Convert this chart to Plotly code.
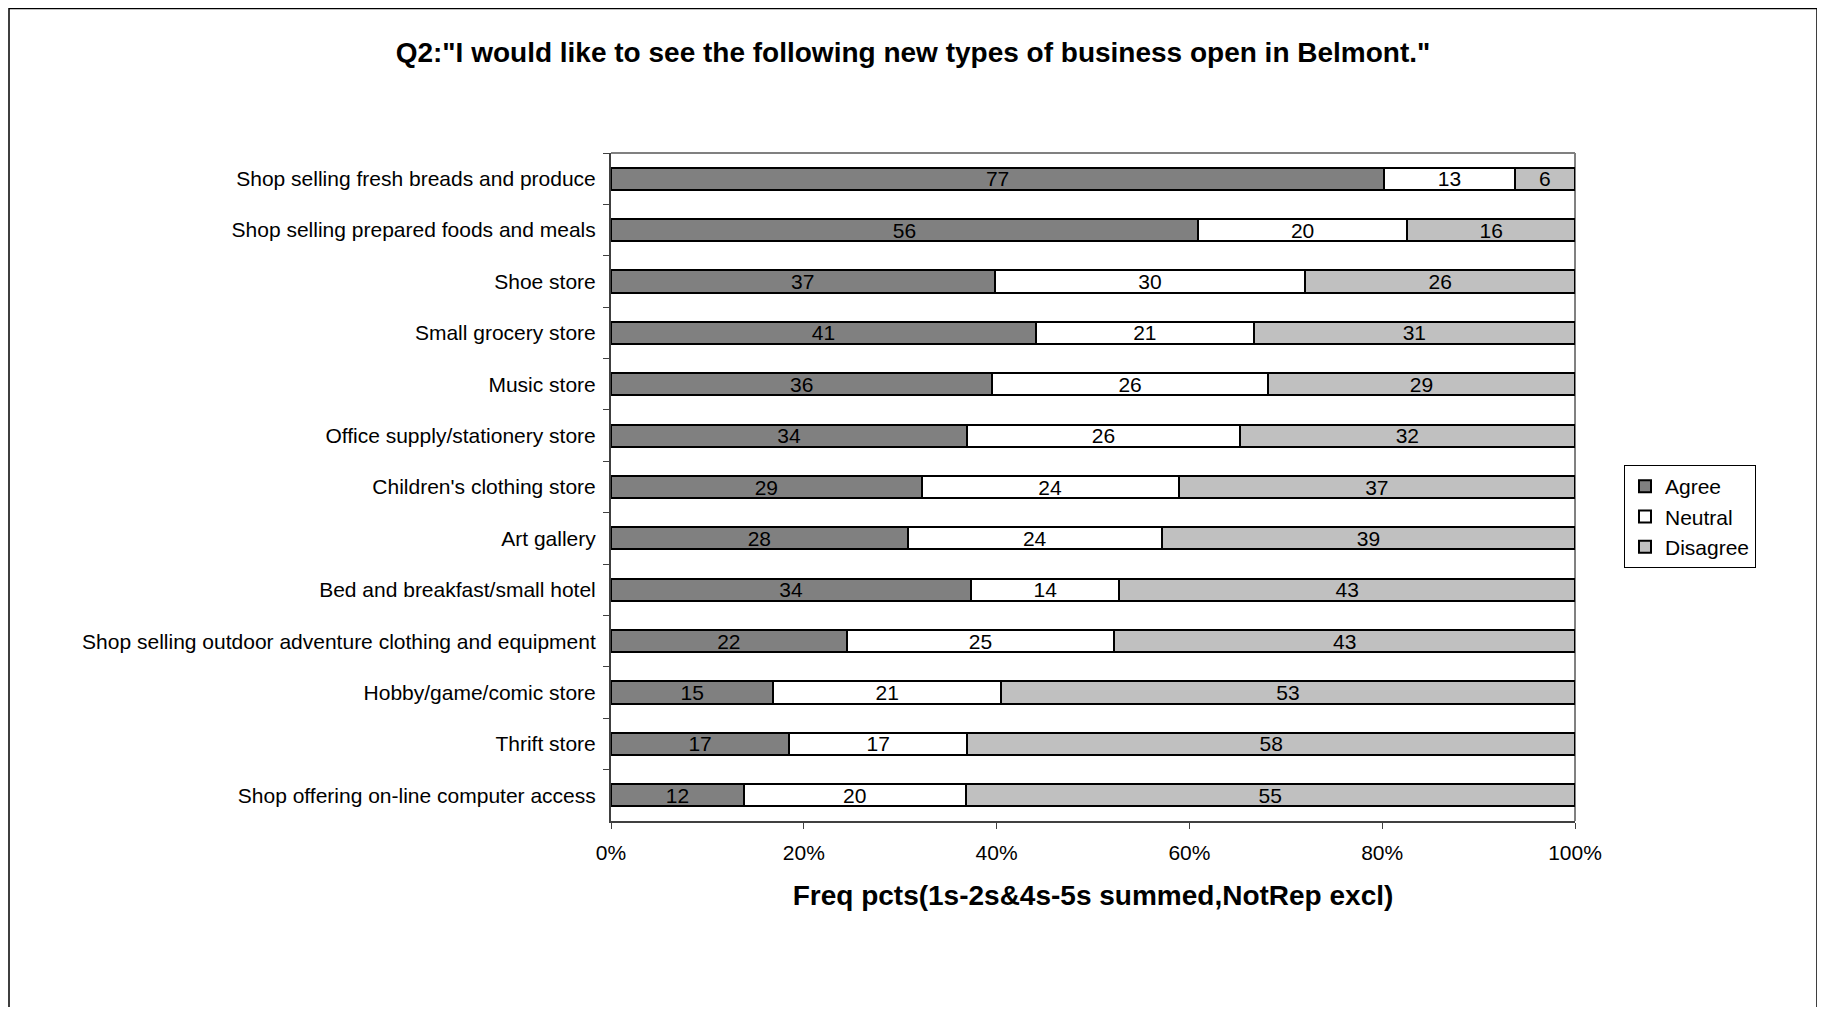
import plotly.graph_objects as go

categories = [
    "Shop selling fresh breads and produce",
    "Shop selling prepared foods and meals",
    "Shoe store",
    "Small grocery store",
    "Music store",
    "Office supply/stationery store",
    "Children's clothing store",
    "Art gallery",
    "Bed and breakfast/small hotel",
    "Shop selling outdoor adventure clothing and equipment",
    "Hobby/game/comic store",
    "Thrift store",
    "Shop offering on-line computer access",
]
agree = [77, 56, 37, 41, 36, 34, 29, 28, 34, 22, 15, 17, 12]
neutral = [13, 20, 30, 21, 26, 26, 24, 24, 14, 25, 21, 17, 20]
disagree = [6, 16, 26, 31, 29, 32, 37, 39, 43, 43, 53, 58, 55]
x_ticks = [0, 20, 40, 60, 80, 100]

FONT = "Liberation Sans, Arial, sans-serif"
OFF = 8  # page body margin
W, H = 1825 - OFF, 1015 - 2 * OFF
# plot area in page coordinates
L, R, T, B = 611 - OFF, 1575 - OFF, 153 - OFF, 821 - OFF

fig = go.Figure()
for name, vals, color in [("Agree", agree, "#808080"),
                          ("Neutral", neutral, "#ffffff"),
                          ("Disagree", disagree, "#c0c0c0")]:
    fig.add_trace(go.Bar(
        name=name, y=categories, x=vals, orientation="h",
        marker=dict(color=color, line=dict(color="#000000", width=2)),
        text=[str(v) for v in vals], textposition="inside",
        insidetextanchor="middle", textangle=0,
        textfont=dict(family=FONT, size=21, color="#000000"),
        hoverinfo="skip",
    ))

pw, ph = R - L, B - T
def px(x):
    return (x - OFF - L) / pw
def py(y):
    return (B - (y - OFF)) / ph

fig.update_layout(
    width=W, height=H,
    margin=dict(l=L, r=W - R, t=T, b=H - B, autoexpand=False),
    barmode="stack", barnorm="percent", bargap=0.57,
    plot_bgcolor="#ffffff", paper_bgcolor="#ffffff",
    font=dict(family=FONT, size=21, color="#000000"),
    title=dict(text='Q2:"I would like to see the following new types of business open in Belmont."',
               x=(913 - OFF) / W, xref="container", xanchor="center",
               y=1 - (52 - OFF) / H, yref="container", yanchor="middle",
               font=dict(family=FONT, size=28, color="#000000", weight="bold")),
    uniformtext=dict(minsize=21, mode="show"),
    legend=dict(x=px(1624), y=py(465), xanchor="left", yanchor="top",
                bordercolor="#000000", borderwidth=1, bgcolor="#ffffff",
                font=dict(family=FONT, size=21), tracegroupgap=0,
                traceorder="normal", itemwidth=30, itemsizing="constant"),
    showlegend=True,
)
fig.update_xaxes(
    range=[0, 100], tickvals=x_ticks, ticktext=[f"{v}%" for v in x_ticks],
    showgrid=False, zeroline=False, showline=True, linecolor="#404040", linewidth=2,
    ticks="outside", ticklen=6, tickcolor="#404040", tickwidth=1,
    tickfont=dict(family=FONT, size=21), ticklabelstandoff=6,
    title=dict(text="Freq pcts(1s-2s&4s-5s summed,NotRep excl)", standoff=22,
               font=dict(family=FONT, size=28, color="#000000", weight="bold")),
    fixedrange=True,
)
fig.update_yaxes(
    categoryorder="array", categoryarray=categories, autorange="reversed",
    showgrid=False, zeroline=False, showline=True, linecolor="#404040", linewidth=2,
    ticks="outside", ticklen=6, tickcolor="#404040", tickwidth=1, tickson="boundaries",
    tickfont=dict(family=FONT, size=21), ticklabelstandoff=9,
    fixedrange=True,
)
# plot area top/right border (gray)
fig.add_shape(type="line", xref="paper", yref="paper", x0=0, x1=1, y0=1, y1=1,
              line=dict(color="#808080", width=2), layer="below")
fig.add_shape(type="line", xref="paper", yref="paper", x0=1, x1=1, y0=0, y1=1,
              line=dict(color="#808080", width=2), layer="below")
# outer chart border
fig.add_shape(type="rect", xref="paper", yref="paper",
              x0=px(9), x1=px(1817), y0=py(1060), y1=py(8.5),
              line=dict(color="#000000", width=1.5), fillcolor="rgba(0,0,0,0)")

fig.write_html("out.html")
